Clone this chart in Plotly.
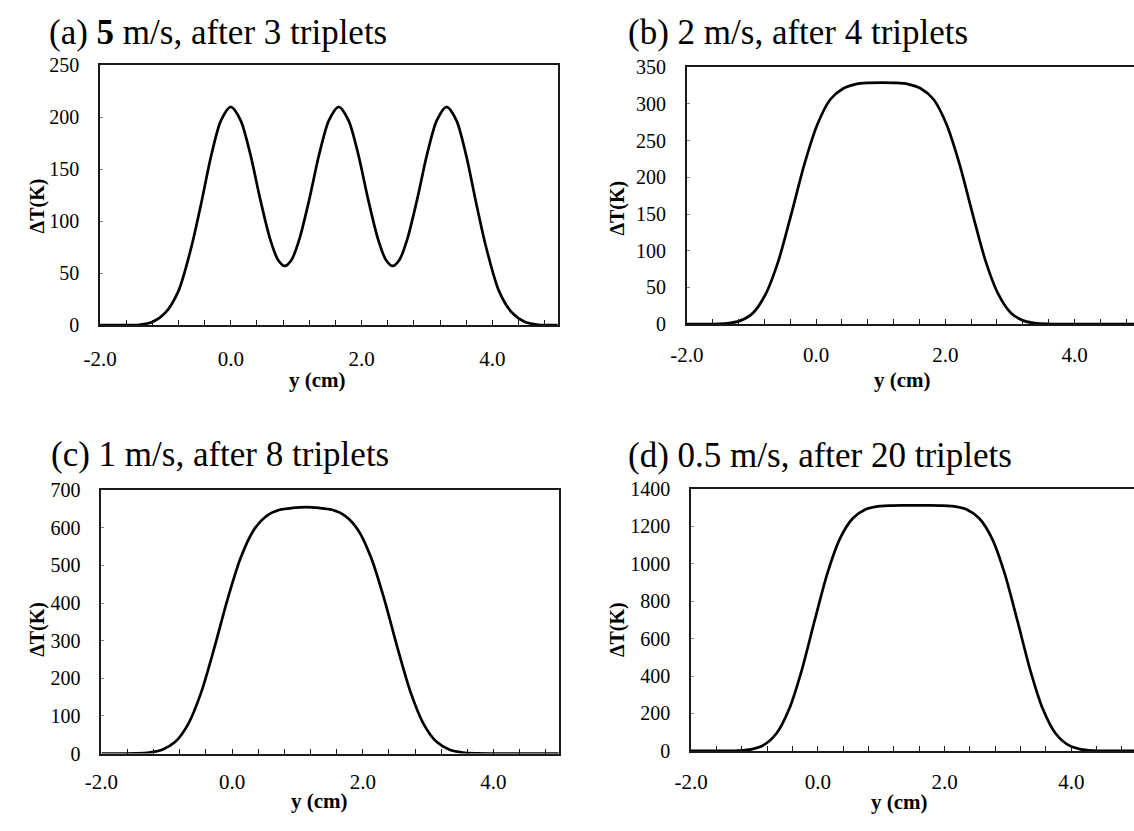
import plotly.graph_objects as go

# ---------------- data ----------------
x_a = [-2.0, -1.6, -1.4, -1.2, -1.0, -0.8, -0.6, -0.45, -0.3, -0.15, 0.0, 0.15, 0.3, 0.45, 0.6, 0.72,
       0.825, 0.93, 1.05, 1.2, 1.35, 1.5, 1.65, 1.8, 1.95, 2.1, 2.25, 2.37, 2.475, 2.58, 2.7, 2.85,
       3.0, 3.15, 3.3, 3.45, 3.6, 3.75, 3.9, 4.1, 4.3, 4.5, 4.7, 5.0]
dT_a = [0, 0, 0.4, 3, 12, 33, 76, 118, 163, 197, 210, 197, 164, 121, 83, 63,
        57, 63, 83, 121, 164, 197, 210, 197, 164, 121, 83, 63, 57, 63, 83, 121,
        164, 197, 210, 197, 163, 118, 76, 33, 12, 3, 0.4, 0]

x_b = [-2.0, -1.6, -1.38, -1.18, -0.98, -0.78, -0.58, -0.38, -0.18, 0.02, 0.22, 0.42, 0.62, 0.82, 1.02,
       1.22, 1.42, 1.62, 1.82, 2.02, 2.22, 2.42, 2.62, 2.82, 3.02, 3.22, 3.42, 3.7, 4.2, 5.0]
dT_b = [0, 0.2, 1.0, 4.5, 15, 41, 87, 151, 218, 272, 306, 321, 327, 328.6, 329,
        328.6, 327, 321, 306, 272, 218, 151, 87, 41, 15, 4.5, 1.0, 0.1, 0, 0]

x_c = [-2.0, -1.47, -1.27, -1.07, -0.87, -0.67, -0.47, -0.27, -0.07, 0.13, 0.33, 0.53, 0.73, 0.93, 1.13,
       1.33, 1.53, 1.73, 1.93, 2.13, 2.33, 2.53, 2.73, 2.93, 3.13, 3.33, 3.53, 3.73, 4.2, 5.0]
dT_c = [0, 0.5, 2.5, 10, 31, 79, 164, 282, 410, 520, 594, 632, 648, 653, 655,
        653, 648, 632, 594, 520, 410, 282, 164, 79, 31, 10, 2.5, 0.5, 0, 0]

x_d = [-2.0, -1.45, -1.25, -1.05, -0.85, -0.65, -0.45, -0.25, -0.05, 0.15, 0.35, 0.55, 0.75, 0.95, 1.15,
       1.35, 1.55, 1.75, 1.95, 2.15, 2.35, 2.55, 2.75, 2.95, 3.15, 3.35, 3.55, 3.75, 3.95, 4.15, 4.35,
       4.55, 5.0]
dT_d = [0, 0.3, 1.8, 8.4, 32, 94, 225, 435, 696, 948, 1135, 1242, 1290, 1307, 1311,
        1312, 1312, 1312, 1311, 1307, 1290, 1242, 1135, 948, 696, 435, 225, 94, 32, 8.4, 1.8,
        0.3, 0]

titles = ["(a) <b>5</b> m/s, after 3 triplets", "(b) 2 m/s, after 4 triplets",
          "(c) 1 m/s, after 8 triplets", "(d) 0.5 m/s, after 20 triplets"]
y_max = [250, 350, 700, 1400]
y_step = [50, 50, 100, 200]
x_tick_vals = [-2.0, -1.6, -1.2, -0.8, -0.4, 0.0, 0.4, 0.8, 1.2, 1.6, 2.0, 2.4, 2.8, 3.2, 3.6, 4.0, 4.4, 4.8]
x_tick_text = ["-2.0", "", "", "", "", "0.0", "", "", "", "", "2.0", "", "", "", "", "4.0", "", ""]
x_title = "<b>y (cm)</b>"
y_title = "<b>ΔT(K)</b>"

# ---------------- layout geometry (pixels) ----------------
W, H = 1134, 831
FONT = "Liberation Serif, Times New Roman, Times, serif"
# left, right, top, bottom of each plot area, x-range max, draw right frame
boxes = [
    (84.3, 549.0, 55.7, 322.7, 5.0, True),
    (680.0, 1134.0, 57.7, 321.7, 4.92, False),
    (85.7, 550.0, 492.3, 762.7, 5.0, True),
    (684.3, 1134.0, 491.0, 760.0, 4.99, False),
]
title_end = [(378, 22), (968, 22), (380, 456), (1012, 457)]
ytitle_pos = [(21, 200), (610, 202), (21, 635), (609, 635)]
xtitle_pos = [(305, 379), (899, 379), (307, 811), (896, 813)]
x_standoff = [14, 11, 8, 11]

fig = go.Figure()
data = [(x_a, dT_a), (x_b, dT_b), (x_c, dT_c), (x_d, dT_d)]
layout = dict(width=W, height=H, margin=dict(l=0, r=0, t=0, b=0),
              paper_bgcolor="white", plot_bgcolor="white", showlegend=False)
annotations = []
for i, ((xs, ys), (l, r, t, b, xmax, rframe)) in enumerate(zip(data, boxes)):
    sfx = "" if i == 0 else str(i + 1)
    fig.add_trace(go.Scatter(x=xs, y=ys, mode="lines",
                             line=dict(color="black", width=2.7, shape="spline", smoothing=0.8),
                             xaxis="x" + sfx, yaxis="y" + sfx, hoverinfo="skip"))
    layout["xaxis" + sfx] = dict(
        domain=[l / W, r / W], range=[-2.0, xmax], anchor="y" + sfx,
        showline=True, linecolor="#1a1a1a", linewidth=1.6, mirror=True,
        ticks="inside", ticklen=5, tickwidth=1.2, tickcolor="#1a1a1a",
        tickmode="array", tickvals=x_tick_vals, ticktext=x_tick_text,
        tickfont=dict(family=FONT, size=21, color="black"), ticklabelstandoff=x_standoff[i],
        showgrid=False, zeroline=False, fixedrange=True)
    layout["yaxis" + sfx] = dict(
        domain=[1 - b / H, 1 - t / H], range=[0, y_max[i]], anchor="x" + sfx,
        showline=True, linecolor="#1a1a1a", linewidth=1.6, mirror=rframe,
        ticks="inside", ticklen=3, tickwidth=1, tickcolor="#888",
        tickmode="linear", tick0=0, dtick=y_step[i],
        tickfont=dict(family=FONT, size=20, color="black"), ticklabelstandoff=15,
        showgrid=False, zeroline=False, fixedrange=True)
    tx, ty = title_end[i]
    annotations.append(dict(text=titles[i], x=tx / W, y=1 - ty / H, xref="paper", yref="paper",
                            xanchor="right", yanchor="middle", showarrow=False,
                            font=dict(family=FONT, size=35, color="black")))
    ax, ay = ytitle_pos[i]
    annotations.append(dict(text=y_title, x=ax / W, y=1 - ay / H, xref="paper", yref="paper",
                            xanchor="center", yanchor="middle", showarrow=False, textangle=-90,
                            font=dict(family=FONT, size=20, color="black")))
    bx, by = xtitle_pos[i]
    annotations.append(dict(text=x_title, x=bx / W, y=1 - by / H, xref="paper", yref="paper",
                            xanchor="center", yanchor="middle", showarrow=False,
                            font=dict(family=FONT, size=21, color="black")))
layout["annotations"] = annotations
fig.update_layout(**layout)
fig.write_html("out.html", config={"displayModeBar": False},
               post_script="document.body.style.margin='0px';")
